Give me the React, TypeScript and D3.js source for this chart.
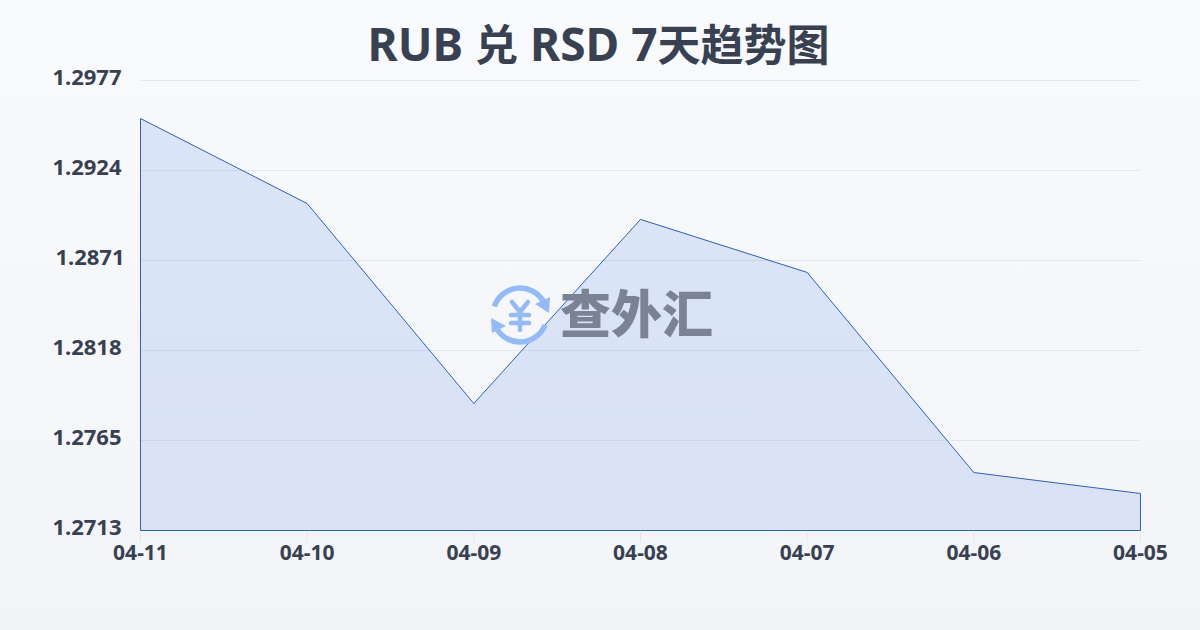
import React from "react";
import * as d3 from "d3";

const dates = ["04-11", "04-10", "04-09", "04-08", "04-07", "04-06", "04-05"];
const rates = [1.29547, 1.29048, 1.27875, 1.28955, 1.28644, 1.2747, 1.27347];
const yTickLabels = ["1.2977", "1.2924", "1.2871", "1.2818", "1.2765", "1.2713"];
const yTickValues = [1.2977, 1.29242, 1.28714, 1.28186, 1.27658, 1.2713];

const FONT = "'Noto Sans', 'Noto Sans CJK SC', sans-serif";

export default function App() {
  const x = d3.scalePoint<string>().domain(dates).range([140.5, 1140.5]);
  const y = d3.scaleLinear().domain([1.2713, 1.2977]).range([530.5, 80.5]);
  const area = d3
    .area<number>()
    .x((_, i) => x(dates[i]) as number)
    .y0(y(1.2713))
    .y1((d) => y(d));
  const outline = area(rates) as string;
  const logoArc = d3.arc().innerRadius(27).outerRadius(27);
  const upperArc = logoArc({ innerRadius: 27, outerRadius: 27, startAngle: -1.25, endAngle: 1.05 } as any) as string;
  const lowerArc = logoArc({ innerRadius: 27, outerRadius: 27, startAngle: 1.95, endAngle: 4.2 } as any) as string;

  return (
    <svg
      width={1200}
      height={630}
      viewBox="0 0 1200 630"
      style={{ position: "fixed", left: 0, top: 0, display: "block" }}
    >
      <defs>
        <linearGradient id="bg" x1="0" y1="0" x2="0" y2="1">
          <stop offset="0" stopColor="#f9fafc" />
          <stop offset="1" stopColor="#f2f4f7" />
        </linearGradient>
        <linearGradient id="fill" gradientUnits="userSpaceOnUse" x1="0" y1="118" x2="0" y2="530">
          <stop offset="0" stopColor="#2f76e6" stopOpacity={0.15} />
          <stop offset="1" stopColor="#4a74e0" stopOpacity={0.15} />
        </linearGradient>
      </defs>
      <rect width={1200} height={630} fill="url(#bg)" />
      <text
        x={598.5}
        y={61}
        textAnchor="middle"
        fontFamily={FONT}
        fontWeight={700}
        fontSize={46}
        fill="#374151"
      >
        RUB <tspan fontSize={43}>兑</tspan> RSD 7<tspan fontSize={43}>天趋势图</tspan>
      </text>

      {yTickValues.map((v, i) => (
        <line key={i} x1={140} x2={1140} y1={y(v)} y2={y(v)} stroke="#e5e7eb" strokeWidth={1} />
      ))}
      {dates.map((d) => (
        <line key={d} x1={x(d)} x2={x(d)} y1={530} y2={542} stroke="#e5e7eb" strokeWidth={1} />
      ))}

      <path d={outline} fill="url(#fill)" stroke="#2a5fc4" strokeWidth={1} />

      {yTickLabels.map((t, i) => (
        <text
          key={t}
          x={t.endsWith("1") ? 124.5 : 121.5}
          y={y(yTickValues[i]) + 4.5}
          textAnchor="end"
          fontFamily={FONT}
          fontWeight={700}
          fontSize={22}
          fill="#374151"
        >
          {t}
        </text>
      ))}
      {dates.map((d) => (
        <text
          key={d}
          x={x(d)}
          y={560}
          textAnchor="middle"
          fontFamily={FONT}
          fontWeight={700}
          fontSize={21}
          fill="#374151"
        >
          {d}
        </text>
      ))}

      <g>
        <g transform="translate(520,315)" fill="none" stroke="#93bbfb" strokeWidth={5.5} strokeLinecap="round">
          <path d={upperArc} />
          <path d={lowerArc} />
        </g>
        <g fill="none" stroke="#93bbfb" strokeWidth={4.5} strokeLinecap="round">
          <path d="M512 302 L520 312 L528 302 M511 315 H529 M511 323 H529 M520 312 V330" />
        </g>
        <path d="M550 297 L549 313 L535 304 Z" fill="#93bbfb" />
        <path d="M491 318 L506 326 L492 333 Z" fill="#93bbfb" />
        <text
          x={560}
          y={333}
          fontFamily="'Noto Sans CJK SC', sans-serif"
          fontWeight={900}
          fontSize={51}
          fill="#7a8294"
        >
          查外汇
        </text>
      </g>
    </svg>
  );
}
